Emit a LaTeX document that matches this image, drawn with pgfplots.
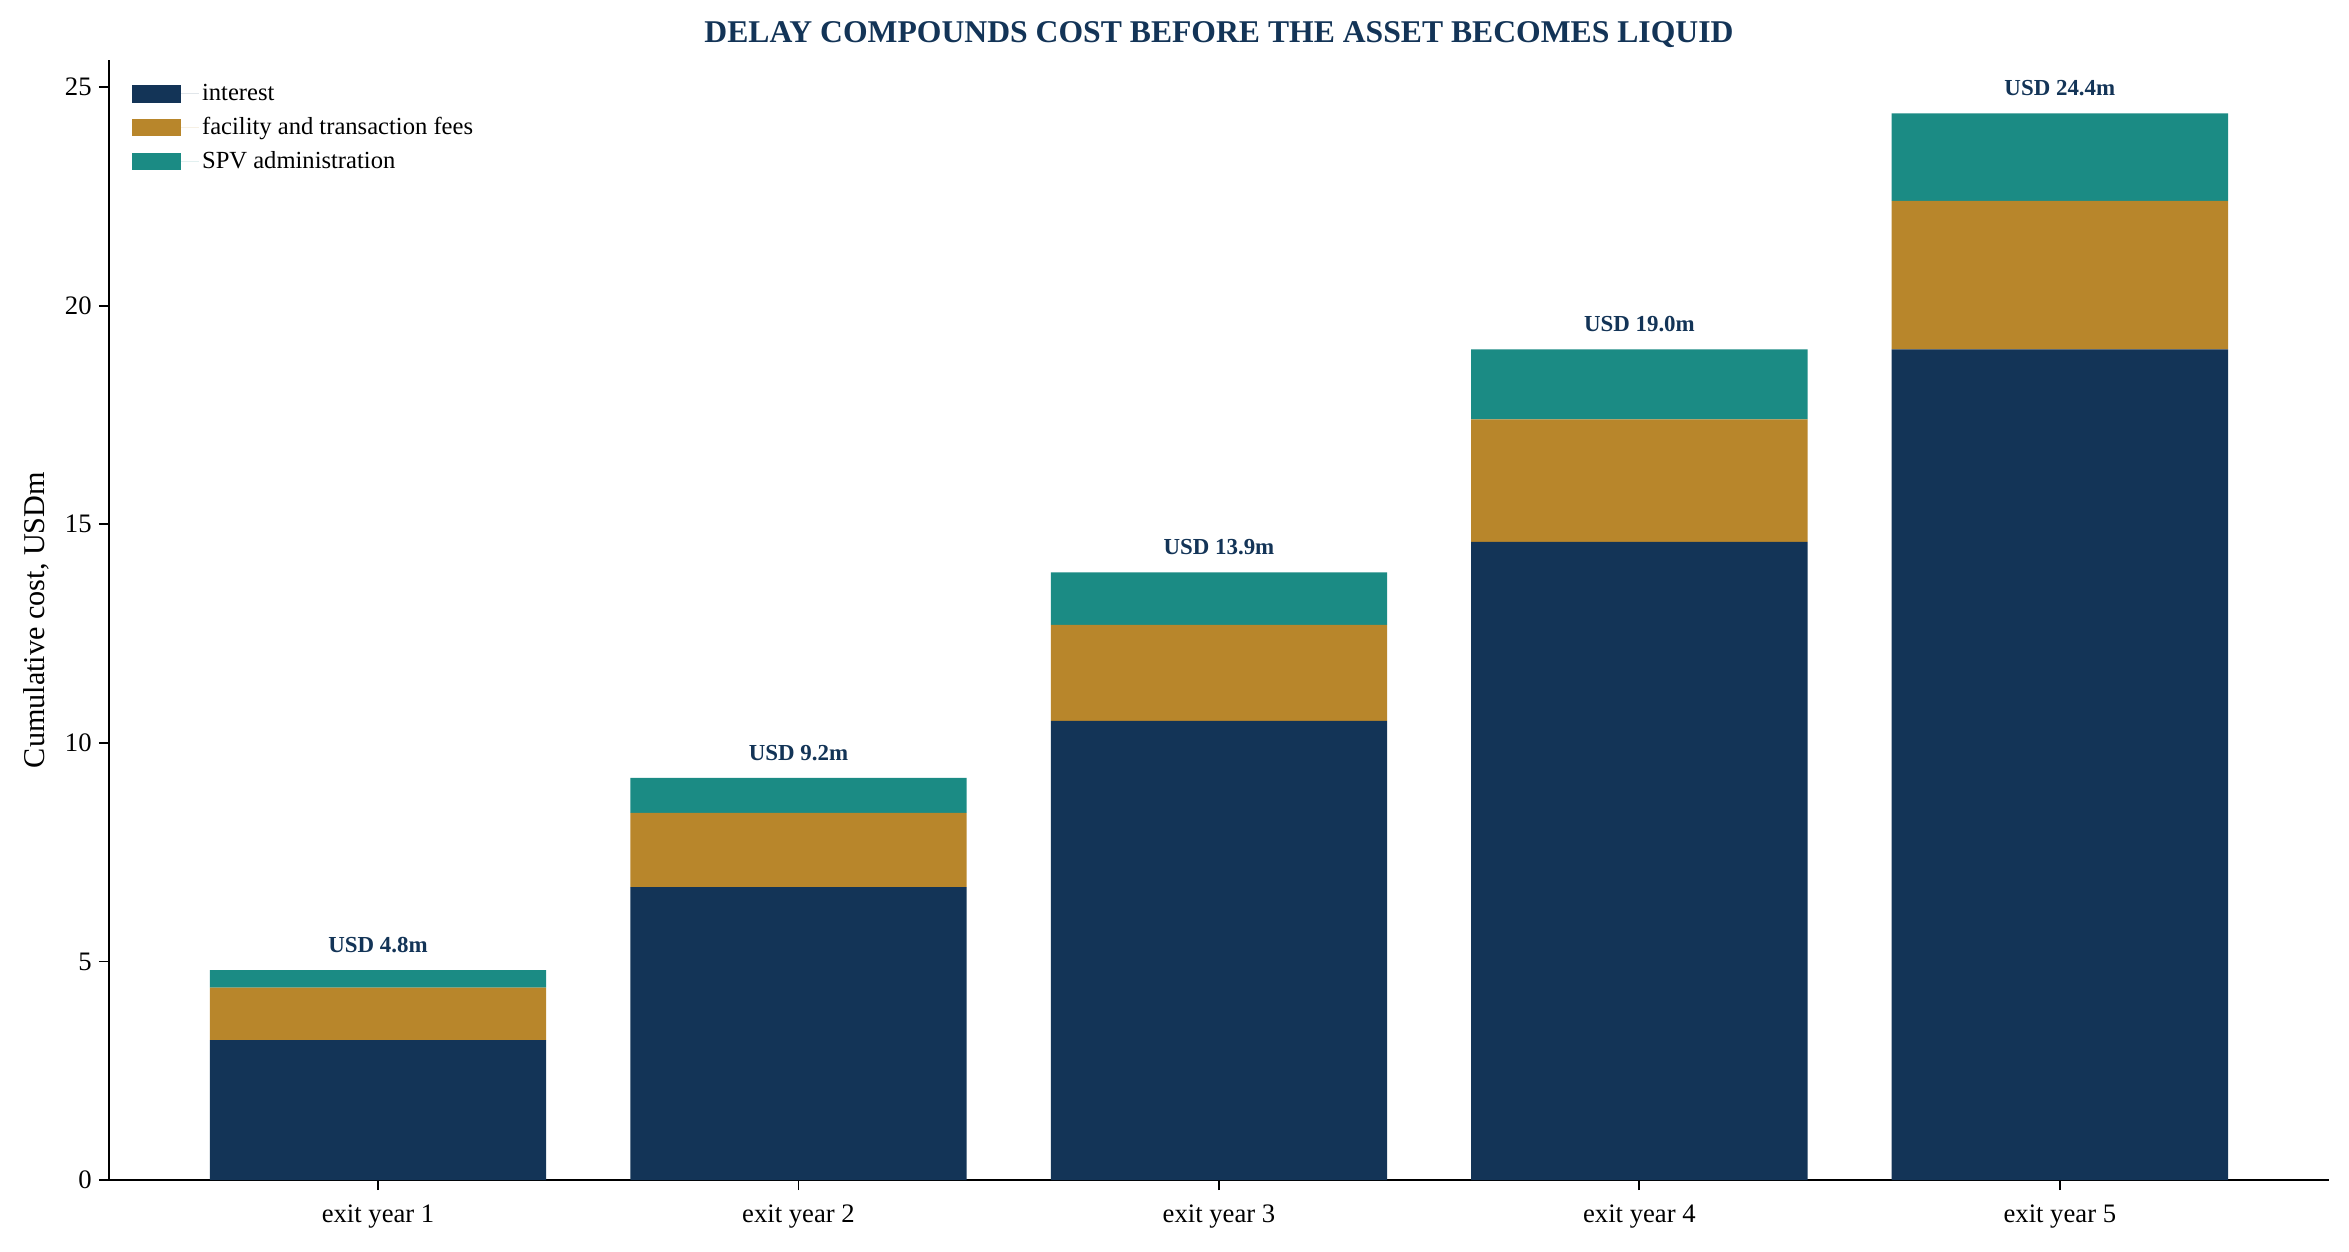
\documentclass[border=0pt]{standalone}
\usepackage{pgfplots}
\pgfplotsset{compat=1.18}
\usepackage{pgfplotstable}
\usepackage{fontspec}
\setmainfont{Liberation Serif}
\definecolor{navy}{HTML}{133457}
\definecolor{gold}{HTML}{B8862B}
\definecolor{teal2}{HTML}{1B8B84}
\pgfplotstableread{
x interest fees spv total label
0 3.2 1.2 0.4 4.8 {USD 4.8m}
1 6.7 1.7 0.8 9.2 {USD 9.2m}
2 10.5 2.2 1.2 13.9 {USD 13.9m}
3 14.6 2.8 1.6 19.0 {USD 19.0m}
4 19.0 3.4 2.0 24.4 {USD 24.4m}
}\costdata
\pgfplotsset{common/.style={
  at={(0pt,0pt)}, anchor=south west,
  scale only axis,
  width=1065.6pt, height=537.6pt,
  xmin=-0.64, xmax=4.64,
  ymin=0, ymax=25.62,
}}
\begin{document}
\begin{tikzpicture}
\path[use as bounding box] (-52.3pt,-34.1pt) rectangle (1075.2pt,566.4pt);
\begin{axis}[
  common,
  ybar stacked,
  bar width=0.8,
  axis x line*=bottom, axis y line*=left,
  axis line style={line width=0.9pt, -},
  tick style={line width=0.9pt, black},
  tick align=outside,
  major tick length=4.8pt,
  xtick={0,1,2,3,4},
  xticklabels={exit year 1, exit year 2, exit year 3, exit year 4, exit year 5},
  ytick={0,5,10,15,20,25},
  /pgf/number format/assume math mode=true,
  ticklabel style={font=\fontsize{12.8}{15}\selectfont},
  xticklabel style={yshift=-3.6pt},
  ylabel={Cumulative cost, USDm},
  ylabel style={font=\fontsize{14.5}{17}\selectfont, at={(axis description cs:0,0.5)}, anchor=south, yshift=25pt},
  title={DELAY COMPOUNDS COST BEFORE THE ASSET BECOMES LIQUID},
  title style={font=\bfseries\fontsize{15.2}{18}\selectfont, color=navy, at={(0.5,1)}, anchor=base, yshift=2.2pt, inner sep=0pt},
  legend style={at={(0,1)}, anchor=north west, xshift=8pt, yshift=-7.9pt, draw=none, fill=none,
    font=\fontsize{11.8}{14}\selectfont, row sep=3.6pt, nodes={inner sep=1.5pt}},
  legend cell align=left,
  legend image code/.code={\fill[#1] (0pt,-4.25pt) rectangle (23.5pt,4.25pt);
    \path (0pt,0pt) -- (32pt,0pt);},
]
\addplot[fill=navy, draw=none] table[x=x, y=interest] {\costdata};
\addlegendentry{interest}
\addplot[fill=gold, draw=none] table[x=x, y=fees] {\costdata};
\addlegendentry{facility and transaction fees}
\addplot[fill=teal2, draw=none] table[x=x, y=spv] {\costdata};
\addlegendentry{SPV administration}
\end{axis}
\begin{axis}[common, hide axis]
\addplot[draw=none, mark=none, nodes near coords, point meta=explicit symbolic,
  every node near coord/.append style={font=\bfseries\fontsize{11}{13}\selectfont, color=navy, anchor=base, yshift=8.5pt, inner sep=0pt}
  ] table[x=x, y=total, meta=label] {\costdata};
\end{axis}
\end{tikzpicture}
\end{document}
